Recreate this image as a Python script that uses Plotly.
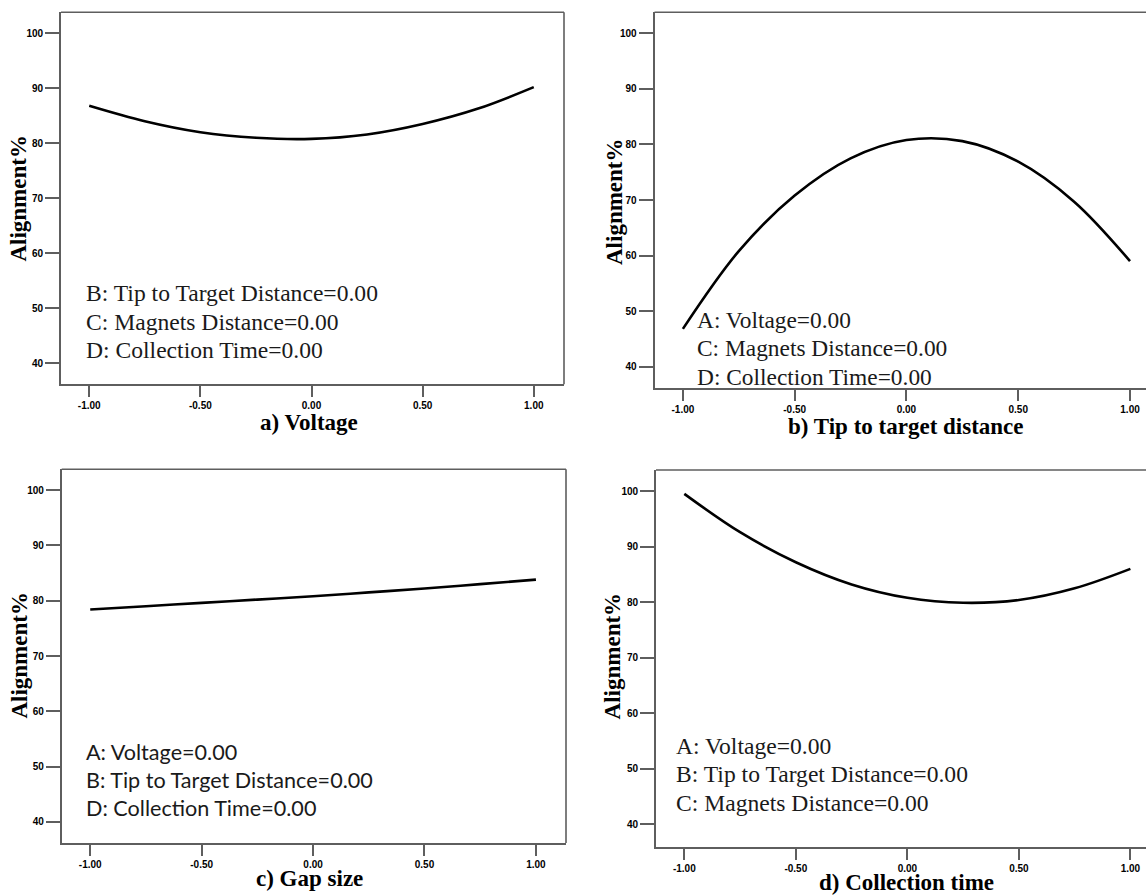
import plotly.graph_objects as go

# ---------------- data ----------------
x_levels = [-1.0, -0.75, -0.5, -0.25, 0.0, 0.25, 0.5, 0.75, 1.0]
voltage_resp = [86.8, 84.0, 82.0, 81.0, 80.8, 81.6, 83.5, 86.3, 90.2]
tip_target_resp = [46.8, 60.8, 70.8, 77.5, 80.8, 80.6, 76.9, 69.7, 59.0]
gap_size_resp = [78.4, 79.0, 79.6, 80.2, 80.8, 81.5, 82.2, 83.0, 83.8]
collection_resp = [99.5, 92.6, 87.2, 83.2, 80.8, 79.9, 80.4, 82.5, 86.0]

x_tickvals = [-1.0, -0.5, 0.0, 0.5, 1.0]
x_ticktext = ["-1.00", "-0.50", "0.00", "0.50", "1.00"]
y_tickvals = [40, 50, 60, 70, 80, 90, 100]
y_ticktext = ["40", "50", "60", "70", "80", "90", "100"]

y_title = "Alignment%"
x_titles = ["a) Voltage", "b) Tip to target distance", "c) Gap size", "d) Collection time"]
conditions = [
    ["B: Tip to Target Distance=0.00", "C: Magnets Distance=0.00", "D: Collection Time=0.00"],
    ["A: Voltage=0.00", "C: Magnets Distance=0.00", "D: Collection Time=0.00"],
    ["A: Voltage=0.00", "B: Tip to Target Distance=0.00", "D: Collection Time=0.00"],
    ["A: Voltage=0.00", "B: Tip to Target Distance=0.00", "C: Magnets Distance=0.00"],
]
series = [voltage_resp, tip_target_resp, gap_size_resp, collection_resp]

# ---------------- layout geometry (pixels) ----------------
W, H = 1146, 896
def px(x):
    return x / W
def py(y):
    return 1 - y / H

# plot boxes: left, right, top, bottom in px
boxes = [
    (61.0, 564.0, 12.3, 384.3),
    (654.5, 1146.0, 12.3, 388.3),
    (61.7, 566.0, 469.3, 843.0),
    (656.0, 1146.0, 470.0, 846.7),
]
x_ranges = [[-1.127, 1.136], [-1.127, 1.0715], [-1.128, 1.135], [-1.127, 1.070]]
y_ranges = [[36.2, 103.8], [36.1, 103.8], [36.2, 103.75], [36.0, 103.8]]
right_border = [True, False, True, False]

ylab_pos = [(18.6, 198), (614, 202), (18.6, 655), (612.4, 656)]
xlab_pos = [(309, 422.7), (906, 426.7), (309, 878), (906, 882.5)]
cond_x = [83.5, 695, 84, 674]
cond_y = [[293, 322, 350], [320, 348, 376.7], [751.7, 780, 808.3], [746, 774.3, 803.3]]
cond_font = ["Liberation Serif", "Liberation Serif", "Lato", "Liberation Serif"]
cond_size = [23.6, 23.4, 21.6, 23.6]

axis_col = "#5e5e5e"

fig = go.Figure()
annotations = []
shapes = []
layout_axes = {}

for i in range(4):
    n = "" if i == 0 else str(i + 1)
    fig.add_trace(go.Scatter(
        x=x_levels, y=series[i], mode="lines",
        line=dict(color="black", width=2.6, shape="spline", smoothing=1.0),
        xaxis="x" + n, yaxis="y" + n, showlegend=False, hoverinfo="skip",
    ))
    l, r, t, b = boxes[i]
    layout_axes["xaxis" + n] = dict(
        domain=[px(l), px(r)], range=x_ranges[i], anchor="y" + n,
        tickvals=x_tickvals, ticktext=x_ticktext,
        showline=True, linecolor=axis_col, linewidth=1.6,
        ticks="outside", ticklen=11, tickwidth=1.5, tickcolor=axis_col,
        tickfont=dict(family="Liberation Sans", size=10, color="black", weight="bold"),
        showgrid=False, zeroline=False, automargin=False,
    )
    layout_axes["yaxis" + n] = dict(
        domain=[py(b), py(t)], range=y_ranges[i], anchor="x" + n,
        tickvals=y_tickvals, ticktext=y_ticktext,
        showline=True, linecolor=axis_col, linewidth=1.6,
        ticks="outside", ticklen=14, tickwidth=1.5, tickcolor=axis_col,
        tickfont=dict(family="Liberation Sans", size=10, color="black", weight="bold"),
        showgrid=False, zeroline=False, automargin=False,
    )
    # top border
    shapes.append(dict(type="line", xref="x" + n + " domain", yref="y" + n + " domain",
                       x0=0, x1=1, y0=1, y1=1, line=dict(color=axis_col, width=1.6)))
    if right_border[i]:
        shapes.append(dict(type="line", xref="x" + n + " domain", yref="y" + n + " domain",
                           x0=1, x1=1, y0=0, y1=1, line=dict(color=axis_col, width=1.6)))
    # axis titles
    annotations.append(dict(text=y_title, x=px(ylab_pos[i][0]), y=py(ylab_pos[i][1]),
                            xref="paper", yref="paper", showarrow=False, textangle=-90,
                            xanchor="center", yanchor="middle",
                            font=dict(family="Liberation Serif", size=23, color="black", weight="bold")))
    annotations.append(dict(text=x_titles[i], x=px(xlab_pos[i][0]), y=py(xlab_pos[i][1]),
                            xref="paper", yref="paper", showarrow=False,
                            xanchor="center", yanchor="middle",
                            font=dict(family="Liberation Serif", size=23, color="black", weight="bold")))
    for j, txt in enumerate(conditions[i]):
        annotations.append(dict(text=txt, x=px(cond_x[i]), y=py(cond_y[i][j]),
                                xref="paper", yref="paper", showarrow=False,
                                xanchor="left", yanchor="middle",
                                font=dict(family=cond_font[i], size=cond_size[i], color="#1a1a1a")))

fig.update_layout(
    width=W, height=H, margin=dict(l=0, r=0, t=0, b=0),
    paper_bgcolor="white", plot_bgcolor="white",
    annotations=annotations, shapes=shapes, showlegend=False,
    **layout_axes,
)

fig.write_html("out.html")
